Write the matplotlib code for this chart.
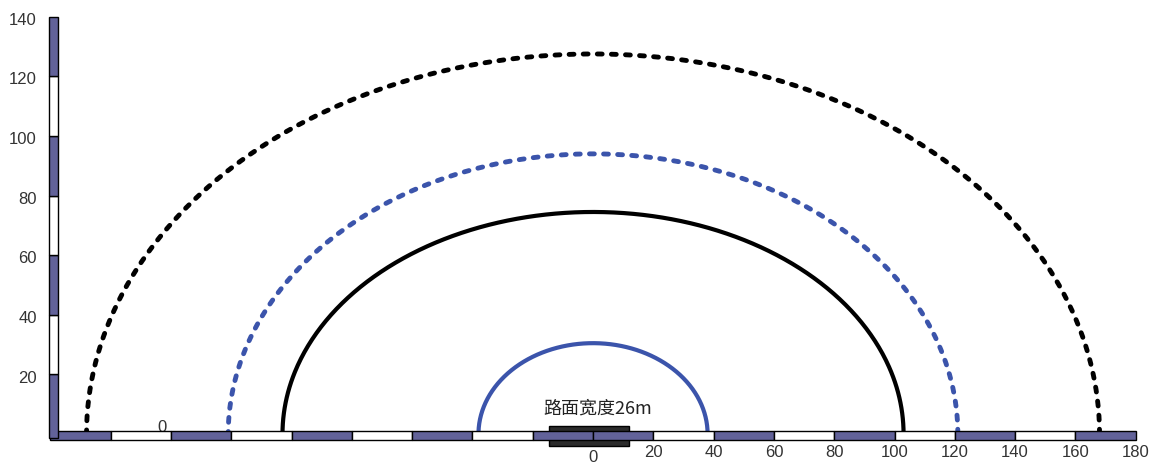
import numpy as np
import matplotlib.pyplot as plt
from matplotlib.patches import Rectangle

plt.rcParams['font.family'] = ['Liberation Sans', 'Noto Sans CJK SC', 'DejaVu Sans']

# semiejes de las curvas (a = horizontal, b = vertical)
curvas_a = [38, 103, 121, 168]
curvas_b = [30.5, 74.5, 94, 127.5]
curvas_color = ['#3b54ab', 'black', '#3b54ab', 'black']
curvas_estilo = ['solid', 'solid', 'dashed', 'dashed']

# escala horizontal y vertical
x_tramos = list(range(-180, 180, 20))
y_tramos = list(range(0, 140, 20))
x_etiquetas = [0, 20, 40, 60, 80, 100, 120, 140, 160, 180]
y_etiquetas = [20, 40, 60, 80, 100, 120, 140]

azul = '#626299'

fig = plt.figure(figsize=(11.52, 4.66), dpi=100)
ax = fig.add_axes([0, 0, 1, 1])
ax.set_xlim(-196.7, 185.4)
ax.set_ylim(-10.7, 145.6)
ax.axis('off')

# curvas
t = np.linspace(0, np.pi, 400)
for a, b, c, est in zip(curvas_a, curvas_b, curvas_color, curvas_estilo):
    if est == 'dashed':
        ax.plot(a * np.cos(t), b * np.sin(t), color=c, lw=3.5, dashes=(1.0, 1.9),
                dash_capstyle='round', zorder=2)
    else:
        ax.plot(a * np.cos(t), b * np.sin(t), color=c, lw=3, zorder=2)

# rectangulo de la calzada
ax.add_patch(Rectangle((-14.6, -4), 26.5, 6.7, facecolor='#2b2b2b',
                       edgecolor='black', lw=1, zorder=3))
ax.text(1.7, 8.7, '路面宽度26m', ha='center', va='center', fontsize=13,
        family=['Noto Sans CJK SC', 'DejaVu Sans'], color='#222222', zorder=5)

# barra horizontal
colores_x = []
for x in x_tramos:
    k = (x + 180) // 20 if x < 0 else (160 - x) // 20
    colores_x.append(azul if k % 2 == 0 else 'white')
ax.bar(x_tramos, 3.1, width=20, bottom=-2.0, align='edge', color=colores_x,
       edgecolor='black', linewidth=1, zorder=4)

# barra vertical
colores_y = [azul if i % 2 == 0 else 'white' for i in range(len(y_tramos))]
alturas_y = [20] * len(y_tramos)
bases_y = list(y_tramos)
alturas_y[0] += 1.3
bases_y[0] -= 1.3
ax.bar([-180.6] * len(y_tramos), alturas_y, width=3.1, bottom=bases_y, align='edge',
       color=colores_y, edgecolor='black', linewidth=1, zorder=5)

# etiquetas
for v in x_etiquetas:
    yy = -7.7 if v == 0 else -6.3
    ax.text(v, yy, str(v), ha='center', va='center', fontsize=12, color='#333333')
for v in y_etiquetas:
    ax.text(-184.5, v - 1.2, str(v), ha='right', va='center', fontsize=12, color='#333333')
ax.text(-143, 2.3, '0', ha='center', va='center', fontsize=12, color='#333333', zorder=1)

fig.savefig('out.png', dpi=100)
